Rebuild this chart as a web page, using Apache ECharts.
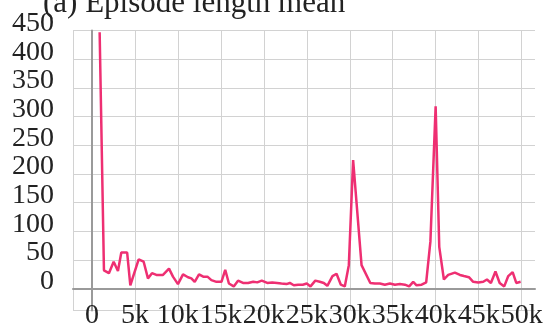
<!DOCTYPE html>
<html>
<head>
<meta charset="utf-8">
<script src="https://cdn.jsdelivr.net/npm/echarts@6/dist/echarts.min.js"></script>
<style>
  html, body { margin: 0; padding: 0; background: #ffffff; }
  #chart { width: 548px; height: 331px; }
</style>
</head>
<body>
<div id="chart"></div>
<script>
// Training step at which each episode-length sample was logged
const steps = [
  900, 1400, 1980, 2530, 3030, 3420, 4100, 4470, 5440, 6020,
  6520, 6990, 7500, 8270, 8970, 9430, 10010, 10600, 11180, 11570,
  11960, 12460, 12950, 13440, 13900, 14490, 15070, 15510, 15940, 16500,
  17000, 17580, 18170, 18770, 19240, 19760, 20400, 20980, 21540, 22050,
  22640, 23020, 23490, 23990, 24530, 25000, 25430, 25990, 26510, 26980,
  27390, 27990, 28460, 28960, 29420, 29890, 30390, 31370, 32390, 32920,
  33500, 34080, 34660, 35250, 35830, 36410, 36910, 37380, 37770, 38360,
  38890, 39380, 39990, 40410, 40950, 41450, 42230, 42820, 43280, 43860,
  44360, 44950, 45530, 45960, 46420, 46950, 47440, 47970, 48440, 48950,
  49370, 49880
];

// Mean episode length at each logged step
const episodeLength = [
  447, 32, 27, 47, 31, 63, 63, 6, 51, 47,
  18, 27, 24, 24, 35, 21, 8, 25, 20, 18,
  12, 25, 21, 21, 15, 12, 12, 33, 9, 4,
  14, 10, 10, 12, 11, 14, 10, 11, 10, 9,
  8, 10, 6, 7, 7, 9, 4, 14, 12, 10,
  5, 22, 26, 7, 4, 41, 224, 41, 10, 9,
  9, 7, 9, 7, 8, 7, 4, 12, 6, 7,
  11, 82, 318, 73, 16, 24, 28, 24, 22, 20,
  12, 11, 12, 16, 10, 30, 10, 4, 22, 29,
  10, 12
];

// Tick positions and their labels
const xTickValues = [0, 5000, 10000, 15000, 20000, 25000, 30000, 35000, 40000, 45000, 50000];
const yTickValues = [0, 50, 100, 150, 200, 250, 300, 350, 400, 450];

const xMin = -2200, xMax = 51550;
const yMin = -38, yMax = 450;

const seriesData = steps.map((s, i) => [s, episodeLength[i]]);

const labelFont = {
  fontFamily: 'Liberation Serif',
  fontSize: 28,
  color: '#222222'
};

const chart = echarts.init(document.getElementById('chart'), null, { renderer: 'canvas' });

chart.setOption({
  animation: false,
  backgroundColor: '#ffffff',
  title: {
    text: '(a) Episode length mean',
    left: 38,
    top: -17,
    textStyle: {
      fontFamily: 'Liberation Serif',
      fontWeight: 'normal',
      fontSize: 31,
      color: '#222222'
    }
  },
  grid: {
    left: 73,
    right: 13,
    top: 30.5,
    bottom: 20.5,
    containLabel: false,
    outerBoundsMode: 'none'
  },
  xAxis: {
    type: 'value',
    min: xMin,
    max: xMax,
    axisLine: { show: true, onZero: true, lineStyle: { color: '#9a9a9a', width: 2 } },
    axisTick: { show: false, customValues: [xMin].concat(xTickValues) },
    axisLabel: {
      customValues: xTickValues,
      margin: -9,
      showMinLabel: true,
      showMaxLabel: true,
      hideOverlap: false,
      ...labelFont,
      formatter: v => (v === 0 ? '0' : (v / 1000) + 'k')
    },
    splitLine: { show: true, lineStyle: { color: '#d2d2d2', width: 1 } }
  },
  yAxis: {
    type: 'value',
    min: yMin,
    max: yMax,
    axisLine: { show: true, onZero: true, lineStyle: { color: '#9a9a9a', width: 2 } },
    axisTick: { show: false, customValues: [yMin].concat(yTickValues) },
    axisLabel: {
      customValues: yTickValues,
      margin: 19,
      showMinLabel: true,
      showMaxLabel: true,
      hideOverlap: false,
      verticalAlign: 'bottom',
      lineHeight: 14,
      ...labelFont
    },
    splitLine: { show: true, lineStyle: { color: '#d2d2d2', width: 1 } }
  },
  series: [{
    type: 'line',
    data: seriesData,
    showSymbol: false,
    symbol: 'none',
    lineStyle: { color: '#ee2f72', width: 2.5 },
    itemStyle: { color: '#ee2f72' }
  }]
});
</script>
</body>
</html>
